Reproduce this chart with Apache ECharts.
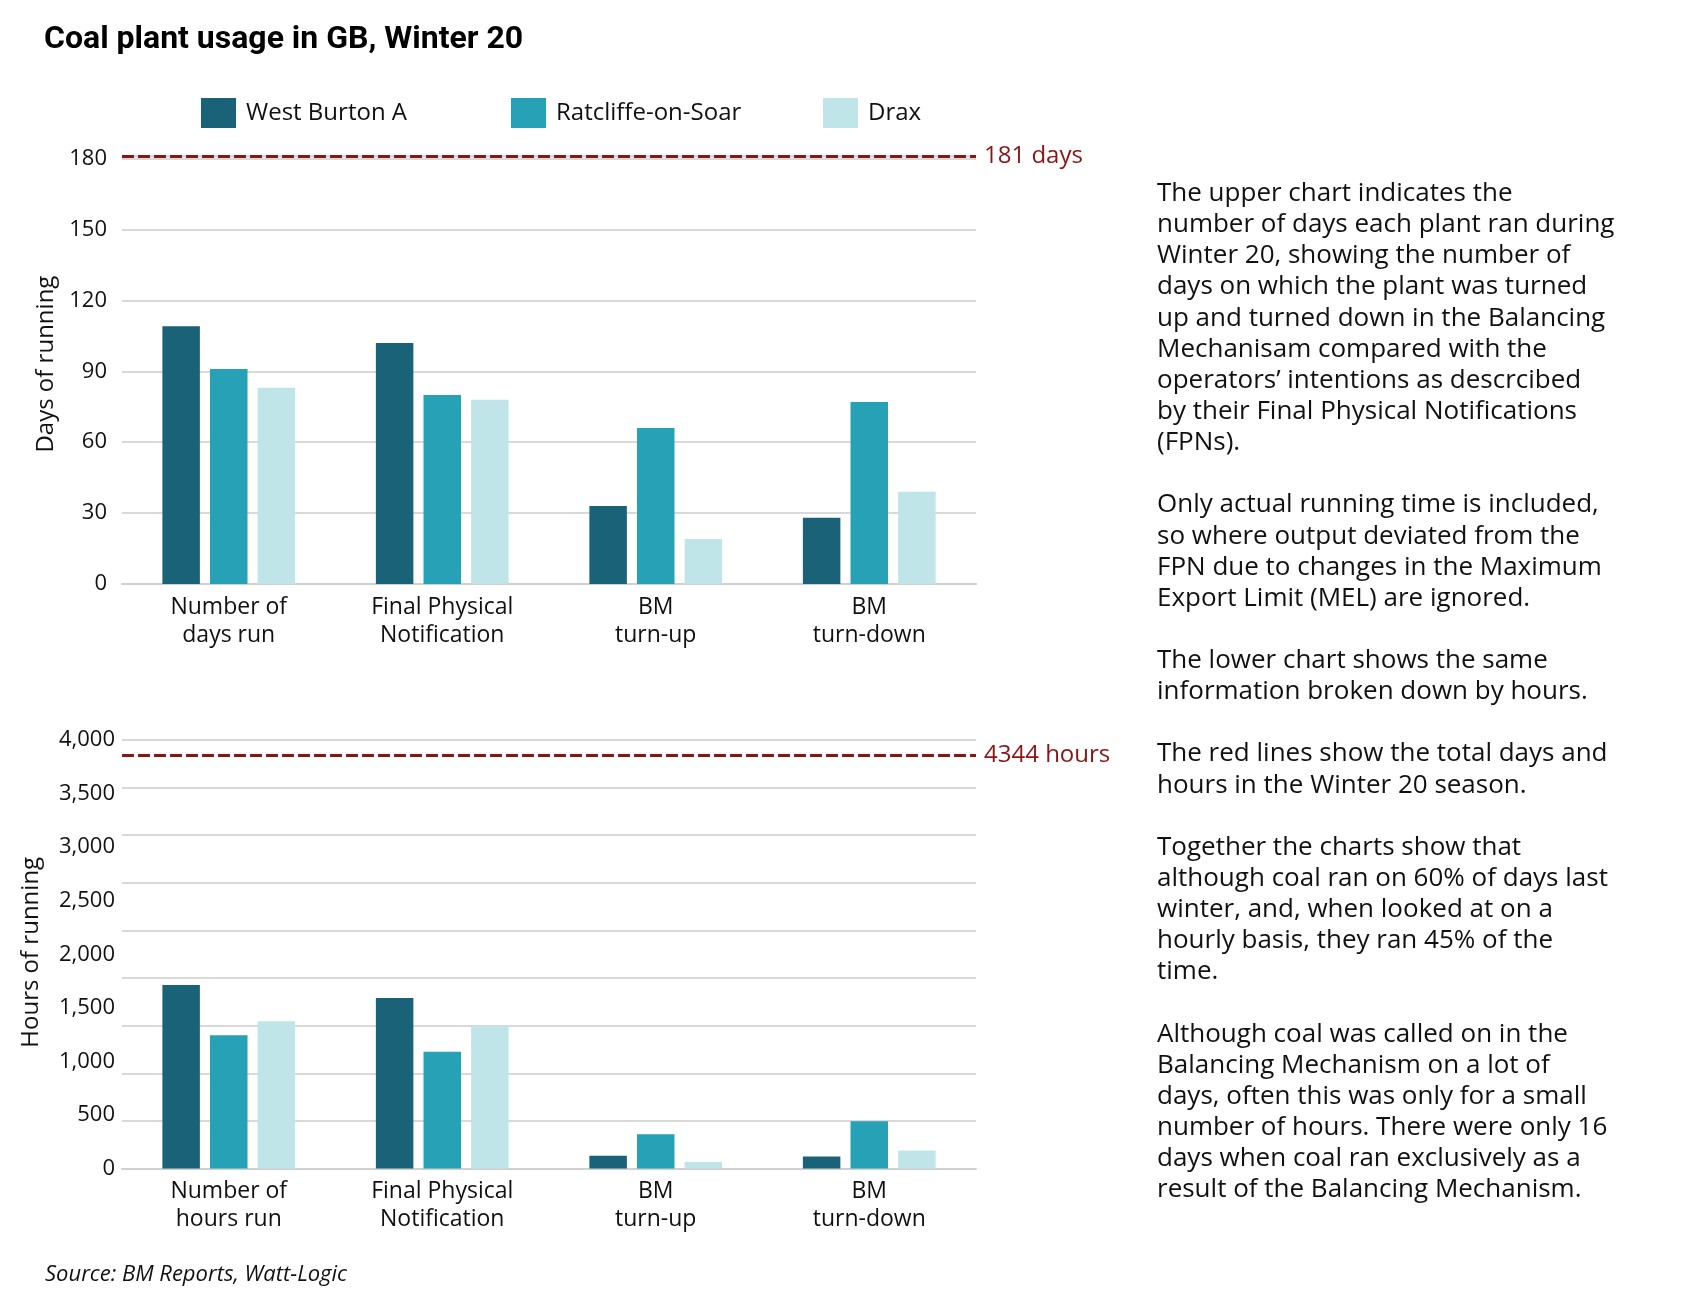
<!DOCTYPE html>
<html>
<head>
<meta charset="utf-8">
<script src="https://cdn.jsdelivr.net/npm/echarts@6/dist/echarts.min.js"></script>
<style>
  html, body { margin: 0; padding: 0; background: #ffffff; }
  #chart { width: 1682px; height: 1309px; }
</style>
</head>
<body>
<div id="chart"></div>
<script>
// ---- Data ----
const plants = ['West Burton A', 'Ratcliffe-on-Soar', 'Drax'];
const dayCategories = ['Number of\ndays run', 'Final Physical\nNotification', 'BM\nturn-up', 'BM\nturn-down'];
const hourCategories = ['Number of\nhours run', 'Final Physical\nNotification', 'BM\nturn-up', 'BM\nturn-down'];

const daysWestBurton = [109, 102, 33, 28];
const daysRatcliffe = [91, 80, 66, 77];
const daysDrax = [83, 78, 19, 39];

const hoursWestBurton = [1928, 1792, 136, 126];
const hoursRatcliffe = [1400, 1228, 360, 497];
const hoursDrax = [1547, 1498, 70, 189];

const totalDays = 181;
const totalHours = 4344;

const daysTicks = { min: 0, max: 180, interval: 30 };
const hoursGridTicks = { min: 0, max: 4500, interval: 500 };
const hoursLabelTicks = { min: 0, max: 4000, interval: 500 };

const noteLines = [
  'The upper chart indicates the',
  'number of days each plant ran during',
  'Winter 20, showing the number of',
  'days on which the plant was turned',
  'up and turned down in the Balancing',
  'Mechanisam compared with the',
  'operators\u2019 intentions as descrcibed',
  'by their Final Physical Notifications',
  '(FPNs).',
  '',
  'Only actual running time is included,',
  'so where output deviated from the',
  'FPN due to changes in the Maximum',
  'Export Limit (MEL) are ignored.',
  '',
  'The lower chart shows the same',
  'information broken down by hours.',
  '',
  'The red lines show the total days and',
  'hours in the Winter 20 season.',
  '',
  'Together the charts show that',
  'although coal ran on 60% of days last',
  'winter, and, when looked at on a',
  'hourly basis, they ran 45% of the',
  'time.',
  '',
  'Although coal was called on in the',
  'Balancing Mechanism on a lot of',
  'days, often this was only for a small',
  'number of hours. There were only 16',
  'days when coal ran exclusively as a',
  'result of the Balancing Mechanism.'
];

// ---- Styles ----
const colors = ['#1a6277', '#27a1b6', '#bfe5e8'];
const FONT = '"Open Sans", "Noto Sans", sans-serif';
const RED = '#8b1515';
const GRID_LINE = '#d9d9d9';

const grids = [
  { left: 122, width: 854, top: 156.2, height: 427.8 },
  { left: 122, width: 854, top: 740, height: 428.6 }
];

function fmtThousands(v) {
  return String(v).replace(/\B(?=(\d{3})+(?!\d))/g, ',');
}

const catAxis = (gridIndex, data) => ({
  type: 'category',
  gridIndex: gridIndex,
  data: data,
  axisLine: { show: true, lineStyle: { color: '#d0d0d0', width: 2 } },
  axisTick: { show: false },
  axisLabel: { fontFamily: FONT, fontSize: 23, color: '#111', lineHeight: 28, margin: 9 }
});

const markLineFor = (value, text) => ({
  silent: true,
  symbol: 'none',
  lineStyle: { color: RED, width: 3, type: [12, 4] },
  label: {
    show: true, position: 'end', formatter: text, distance: 8,
    fontFamily: FONT, fontSize: 24, color: RED
  },
  data: [{ yAxis: value }]
});

const barBase = { type: 'bar', barWidth: 37.5, barGap: '27%' };

const option = {
  backgroundColor: '#ffffff',
  animation: false,
  color: colors,
  title: {
    text: 'Coal plant usage in GB, Winter 20',
    left: 39, top: 17,
    textStyle: { fontFamily: 'Roboto, sans-serif', fontWeight: 'bold', fontSize: 32, color: '#000', lineHeight: 36 }
  },
  legend: plants.map((p, i) => ({
    data: [p],
    left: [196, 506, 818][i],
    top: 93,
    icon: 'rect',
    itemWidth: 35,
    itemHeight: 30,
    selectedMode: false,
    textStyle: { fontFamily: FONT, fontSize: 24, color: '#111', padding: [0, 0, 0, 5] }
  })),
  grid: grids,
  xAxis: [catAxis(0, dayCategories), catAxis(1, hourCategories)],
  yAxis: [
    {
      type: 'value', gridIndex: 0,
      min: daysTicks.min, max: totalDays, interval: daysTicks.interval,
      axisLine: { show: false }, axisTick: { show: false },
      splitLine: { lineStyle: { color: GRID_LINE, width: 2 } },
      axisLabel: { fontFamily: FONT, fontSize: 22, color: '#111', margin: 15, showMaxLabel: false },
      name: 'Days of running', nameLocation: 'middle', nameGap: 61,
      nameTextStyle: { fontFamily: FONT, fontSize: 24, color: '#111', padding: [0, 0, 0, 12] }
    },
    {
      type: 'value', gridIndex: 1, position: 'left',
      min: hoursGridTicks.min, max: hoursGridTicks.max, interval: hoursGridTicks.interval,
      axisLine: { show: false }, axisTick: { show: false },
      splitLine: { lineStyle: { color: GRID_LINE, width: 2 } },
      axisLabel: { show: false },
      name: 'Hours of running', nameLocation: 'middle', nameGap: 79,
      nameTextStyle: { fontFamily: FONT, fontSize: 24, color: '#111', padding: [0, 0, 0, 4] }
    },
    {
      type: 'value', gridIndex: 1, position: 'left',
      min: hoursLabelTicks.min, max: hoursLabelTicks.max, interval: hoursLabelTicks.interval,
      axisLine: { show: false }, axisTick: { show: false },
      splitLine: { show: false },
      axisLabel: { fontFamily: FONT, fontSize: 22, color: '#111', margin: 7, formatter: fmtThousands }
    }
  ],
  series: [
    Object.assign({}, barBase, { name: plants[0], xAxisIndex: 0, yAxisIndex: 0, data: daysWestBurton,
      markLine: markLineFor(totalDays, totalDays + ' days') }),
    Object.assign({}, barBase, { name: plants[1], xAxisIndex: 0, yAxisIndex: 0, data: daysRatcliffe }),
    Object.assign({}, barBase, { name: plants[2], xAxisIndex: 0, yAxisIndex: 0, data: daysDrax }),
    Object.assign({}, barBase, { name: plants[0], xAxisIndex: 1, yAxisIndex: 1, data: hoursWestBurton,
      markLine: markLineFor(totalHours, totalHours + ' hours') }),
    Object.assign({}, barBase, { name: plants[1], xAxisIndex: 1, yAxisIndex: 1, data: hoursRatcliffe }),
    Object.assign({}, barBase, { name: plants[2], xAxisIndex: 1, yAxisIndex: 1, data: hoursDrax })
  ],
  graphic: [
    {
      type: 'text', left: 1157, top: 178,
      style: { text: noteLines.join('\n'), font: '26px ' + FONT, lineHeight: 31.14, fill: '#111' }
    },
    {
      type: 'text', left: 45, top: 1264,
      style: { text: 'Source: BM Reports, Watt-Logic', font: 'italic 22px ' + FONT, fill: '#111' }
    }
  ]
};

const chart = echarts.init(document.getElementById('chart'), null, { renderer: 'canvas' });
chart.setOption(option);
</script>
</body>
</html>
